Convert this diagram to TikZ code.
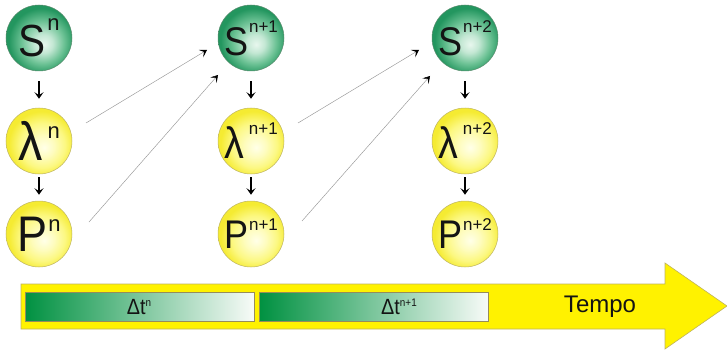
\documentclass[tikz,border=0pt]{standalone}
\usepackage{fontspec}
\setmainfont{Liberation Sans}
\newfontfamily\narrowfont{Liberation Sans}[FakeStretch=0.9]
\usetikzlibrary{arrows.meta,calc}
\definecolor{txt}{RGB}{20,20,20}
\definecolor{gedge}{RGB}{35,150,95}
\definecolor{gmid}{RGB}{110,195,150}
\definecolor{gcen}{RGB}{232,247,238}
\definecolor{gline}{RGB}{90,140,110}
\definecolor{yedge}{RGB}{245,235,50}
\definecolor{ymid}{RGB}{252,248,130}
\definecolor{ycen}{RGB}{255,255,232}
\definecolor{yline}{RGB}{190,180,100}
\definecolor{arrowyellow}{RGB}{255,242,0}
\definecolor{arrowline}{RGB}{190,178,95}
\definecolor{bargreen}{RGB}{0,145,65}
\definecolor{barwhite}{RGB}{248,251,248}
\definecolor{barline}{RGB}{150,140,90}
\definecolor{thinline}{RGB}{150,150,150}
\pgfdeclareradialshading{greenball}{\pgfpoint{4bp}{-5bp}}{color(0bp)=(gcen); color(7bp)=(gcen!70!gmid); color(16bp)=(gmid); color(25bp)=(gedge); color(50bp)=(gedge)}
\pgfdeclareradialshading{yellowball}{\pgfpoint{4bp}{-5bp}}{color(0bp)=(ycen); color(8bp)=(ycen!60!ymid); color(17bp)=(ymid); color(25bp)=(yedge); color(50bp)=(yedge)}
\newcommand{\lbl}[6]{\color{txt}{\narrowfont\fontsize{#2}{#2}\selectfont #1}\hspace{#6}\raisebox{#5}{\fontsize{#4}{#4}\selectfont #3}}
\begin{document}
\begin{tikzpicture}[x=1pt,y=-1pt,
  ballbase/.style={circle,minimum size=66pt,inner sep=0pt,line width=0.5pt},
  gball/.style={ballbase,draw=gline,shading=greenball},
  yball/.style={ballbase,draw=yline,shading=yellowball},
  darr/.style={line width=1.6pt,black,-{Stealth[length=6.5pt,width=9pt,inset=3pt]}},
  diag/.style={line width=0.45pt,thinline,-{Stealth[length=7pt,width=8.5pt,inset=3.5pt,black]}},
  bar/.style={draw=barline,line width=0.6pt,left color=bargreen,right color=barwhite,minimum width=229pt,minimum height=29pt,inner sep=0pt},
  bigarrow/.style={fill=arrowyellow,draw=arrowline,line width=0.6pt},
  dtlbl/.style={inner sep=0pt,text=txt},
]
\useasboundingbox (0,0) rectangle (727,350);
% time arrow
\draw[bigarrow] (21,284) -- (665,284) -- (665,263) -- (727,306) -- (665,349) -- (665,329) -- (21,329) -- cycle;
\node[bar] (b1) at (139.5,306.5) {};
\node[bar] (b2) at (374,306.5) {};
\node[dtlbl] (t1) at (139,307) {\narrowfont{\fontsize{22}{22}\selectfont Δt}\raisebox{8pt}{\fontsize{11}{11}\selectfont n}};
\node[dtlbl] (t2) at (399,307) {\narrowfont{\fontsize{22}{22}\selectfont Δt}\raisebox{8pt}{\fontsize{11}{11}\selectfont n+1}};
\node[dtlbl] (tempo) at (600,307) {\fontsize{24}{24}\selectfont Tempo};
% column 1
\node[gball] (S1) at (39,38) {\lbl{S}{45}{n}{22}{26pt}{2pt}};
\node[yball] (L1) at (39,141) {\lbl{λ}{54}{n}{22}{22pt}{5pt}};
\node[yball] (P1) at (39,234) {\lbl{P}{50}{n}{22}{20pt}{1pt}};
% column 2
\node[gball] (S2) at (251,38) {\lbl{S}{40}{n+1}{17}{23pt}{1pt}};
\node[yball] (L2) at (251,141) {\lbl{λ}{44}{n+1}{17}{24pt}{5pt}};
\node[yball] (P2) at (251,234) {\lbl{P}{40}{n+1}{17}{18pt}{1pt}};
% column 3
\node[gball] (S3) at (465,38) {\lbl{S}{40}{n+2}{17}{23pt}{1pt}};
\node[yball] (L3) at (465,141) {\lbl{λ}{44}{n+2}{17}{24pt}{5pt}};
\node[yball] (P3) at (465,234) {\lbl{P}{40}{n+2}{17}{18pt}{1pt}};
% vertical arrows
\foreach \c in {1,2,3}{
  \draw[darr,shorten <=10pt,shorten >=9pt] (S\c) -- (L\c);
  \draw[darr,shorten <=3pt,shorten >=6pt] (L\c) -- (P\c);
}
% diagonal connectors
\coordinate (a1s) at (86,123);
\coordinate (a1e) at (207,50);
\coordinate (a2s) at (89,222);
\coordinate (a2e) at (218,75);
\coordinate (a3s) at (298,123);
\coordinate (a3e) at (419,50);
\coordinate (a4s) at (302,221);
\coordinate (a4e) at (430,76);
\draw[diag] (a1s) -- (a1e);
\draw[diag] (a2s) -- (a2e);
\draw[diag] (a3s) -- (a3e);
\draw[diag] (a4s) -- (a4e);
\end{tikzpicture}
\end{document}
